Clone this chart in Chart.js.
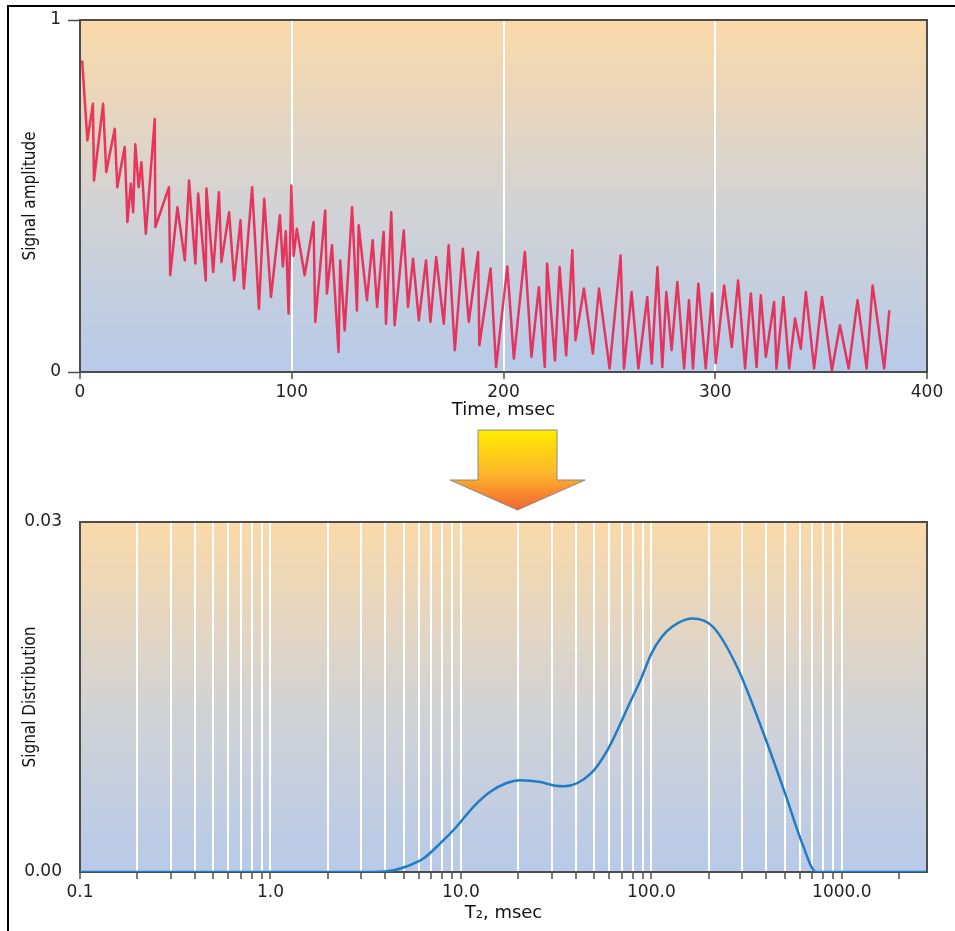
<!DOCTYPE html>
<html>
<head>
<meta charset="utf-8">
<script src="https://cdn.jsdelivr.net/npm/chart.js@4.4.1/dist/chart.umd.min.js"></script>
<style>
  body { margin: 0; background: #fff; width: 955px; height: 931px; overflow: hidden; position: relative; }
  #frame { position: absolute; left: 7px; top: 5px; width: 960px; height: 940px;
           border-top: 2px solid #000; border-left: 2px solid #000; }
  #decay { position: absolute; left: 0; top: 0; }
  #dist { position: absolute; left: 0; top: 480px; }
  #arrow { position: absolute; left: 0; top: 0; }
</style>
</head>
<body>
<div id="frame"></div>
<canvas id="decay" width="955" height="425"></canvas>
<svg id="arrow" width="955" height="520">
  <defs>
    <linearGradient id="ag" x1="0" y1="0" x2="0" y2="1">
      <stop offset="0" stop-color="#ffec00"/>
      <stop offset="0.55" stop-color="#fdb52a"/>
      <stop offset="1" stop-color="#f06432"/>
    </linearGradient>
  </defs>
  <polygon points="478,430 557,430 557,480 585,480 517.5,510 450,480 478,480"
           fill="url(#ag)" stroke="#8a8a8a" stroke-width="1"/>
</svg>
<canvas id="dist" width="955" height="451"></canvas>
<script>
// echo decay (top panel)
const decayTime = [1.0, 3.5, 6.1, 6.6, 10.9, 12.4, 16.4, 17.6, 21.1, 22.4, 24.0, 25.1, 26.1, 27.7, 29.0, 31.1,
  35.3, 35.6, 42.0, 42.6, 46.0, 49.5, 51.5, 54.5, 55.8, 59.4, 59.7, 62.9, 65.6, 66.8, 70.4, 72.8, 75.8, 77.4,
  81.3, 84.5, 87.0, 90.2, 94.4, 95.8, 97.2, 98.5, 99.8, 100.9, 102.4, 106.1, 110.3, 111.1, 115.8, 116.6, 119.0,
  122.1, 122.9, 125.0, 128.5, 130.8, 131.6, 135.5, 138.2, 140.3, 143.4, 144.5, 147.0, 148.6, 152.9, 154.9,
  157.3, 160.0, 163.4, 165.5, 168.2, 171.8, 174.1, 177.0, 180.8, 183.6, 188.0, 188.6, 193.9, 196.5, 201.8,
  204.9, 210.1, 213.2, 216.7, 219.5, 220.6, 224.3, 226.5, 229.6, 232.5, 234.0, 238.0, 242.2, 245.1, 250.1,
  255.3, 256.9, 260.5, 263.7, 267.9, 270.0, 272.7, 275.0, 276.9, 279.4, 282.1, 285.3, 287.6, 289.5, 292.0,
  295.5, 298.5, 300.2, 304.2, 307.8, 310.8, 314.1, 316.8, 319.5, 321.5, 323.9, 327.8, 328.9, 332.2, 334.9,
  337.7, 340.4, 342.8, 346.7, 350.4, 355.1, 358.9, 363.0, 367.2, 371.5, 374.3, 379.8, 382.2];
const decayAmp = [0.885, 0.658, 0.762, 0.544, 0.762, 0.568, 0.691, 0.525, 0.639, 0.426, 0.535, 0.454, 0.647, 0.525,
  0.596, 0.393, 0.719, 0.412, 0.525, 0.275, 0.468, 0.317, 0.544, 0.308, 0.507, 0.260, 0.521, 0.284, 0.511, 0.312,
  0.454, 0.260, 0.431, 0.237, 0.525, 0.180, 0.492, 0.213, 0.445, 0.300, 0.400, 0.166, 0.530, 0.330, 0.407, 0.275,
  0.426, 0.142, 0.459, 0.223, 0.360, 0.057, 0.317, 0.118, 0.468, 0.175, 0.417, 0.204, 0.374, 0.185, 0.398, 0.137,
  0.454, 0.133, 0.402, 0.185, 0.322, 0.147, 0.317, 0.142, 0.327, 0.137, 0.360, 0.062, 0.350, 0.142, 0.341, 0.076,
  0.294, 0.014, 0.300, 0.038, 0.341, 0.043, 0.241, 0.014, 0.308, 0.033, 0.298, 0.047, 0.346, 0.090, 0.237, 0.052,
  0.237, 0.010, 0.331, 0.010, 0.227, 0.010, 0.213, 0.024, 0.298, 0.014, 0.227, 0.062, 0.256, 0.010, 0.204, 0.010,
  0.251, 0.010, 0.223, 0.025, 0.246, 0.071, 0.260, 0.010, 0.223, 0.014, 0.218, 0.043, 0.199, 0.010, 0.213, 0.010,
  0.152, 0.066, 0.227, 0.010, 0.213, 0.005, 0.133, 0.010, 0.204, 0.010, 0.246, 0.010, 0.175];
const timeTicks = [0, 100, 200, 300, 400];
const ampTicks = [0, 1];

// T2 distribution (bottom panel)
const t2Values = [0.1, 1, 3.5, 4.44, 5.21, 6.35, 7.76, 9.46, 11.6, 14.2, 17.4, 20.4, 26.1, 30.7, 35, 48, 58.7,
  78.2, 88.2, 100, 112.8, 128, 164, 211, 282, 377, 504, 620, 733, 1000, 2800];
const distValues = [0, 0, 0, 0.00015, 0.00049, 0.00115, 0.00243, 0.00386, 0.00557, 0.00686, 0.00763, 0.00786,
  0.00771, 0.00742, 0.00735, 0.00843, 0.01043, 0.01472, 0.01655, 0.01872, 0.0201, 0.0210, 0.02172, 0.0210,
  0.01757, 0.01243, 0.00672, 0.00243, 0, 0, 0];
const t2Ticks = [0.1, 0.2, 0.3, 0.4, 0.5, 0.6, 0.7, 0.8, 0.9, 1, 2, 3, 4, 5, 6, 7, 8, 9, 10, 20, 30, 40, 50, 60,
  70, 80, 90, 100, 200, 300, 400, 500, 600, 700, 800, 900, 1000, 2000];
const t2LabelValues = [0.1, 1, 10, 100, 1000];
const t2LabelText = ['0.1', '1.0', '10.0', '100.0', '1000.0'];
const distTicks = [0, 0.03];

const tickFont = { family: 'DejaVu Sans', size: 17 };
const titleFont = { family: 'DejaVu Sans', size: 18 };
const sideFont = { family: "'Liberation Sans Narrow', 'DejaVu Sans Condensed', sans-serif", size: 17 };
const axisDark = '#4d4d4d';

// peach-to-blue backdrop plus the top/right edges of the plot box
const panel = {
  id: 'panel',
  beforeDraw(chart) {
    const { ctx, chartArea: a } = chart;
    const g = ctx.createLinearGradient(0, a.top, 0, a.bottom);
    g.addColorStop(0, '#fad9a9');
    g.addColorStop(0.5, '#d4d3d3');
    g.addColorStop(1, '#b7cae9');
    ctx.save();
    ctx.fillStyle = g;
    ctx.fillRect(a.left, a.top, a.right - a.left, a.bottom - a.top);
    ctx.restore();
  },
  afterDraw(chart) {
    const { ctx, chartArea: a } = chart;
    ctx.save();
    ctx.strokeStyle = axisDark;
    ctx.lineWidth = 2;
    ctx.beginPath();
    ctx.moveTo(a.left, a.top);
    ctx.lineTo(a.right, a.top);
    ctx.lineTo(a.right, a.bottom);
    ctx.stroke();
    ctx.restore();
  }
};

new Chart(document.getElementById('decay'), {
  type: 'line',
  data: {
    datasets: [{
      data: decayTime.map((t, i) => ({ x: t, y: decayAmp[i] })),
      borderColor: 'rgba(234, 26, 70, 0.85)',
      borderWidth: 2.5,
      borderJoinStyle: 'round',
      pointRadius: 0,
      tension: 0
    }]
  },
  options: {
    responsive: false,
    animation: false,
    layout: { padding: { top: 20, right: 28, left: 0, bottom: 0 } },
    plugins: { legend: { display: false }, tooltip: { enabled: false } },
    scales: {
      x: {
        type: 'linear', min: 0, max: 400,
        afterFit: s => { s.height = 53; },
        afterBuildTicks: s => { s.ticks = timeTicks.map(v => ({ value: v })); },
        border: { color: axisDark, width: 2 },
        grid: {
          color: c => (c.tick && c.tick.value > 0 && c.tick.value < 400) ? '#ffffff' : 'rgba(0,0,0,0)',
          lineWidth: 2, tickColor: axisDark, tickWidth: 1.5, tickLength: 7
        },
        ticks: { font: tickFont, color: '#222', padding: 3, maxRotation: 0, autoSkip: false },
        title: { display: true, text: 'Time, msec', font: titleFont, color: '#111', padding: { top: 0, bottom: 4 } }
      },
      y: {
        min: 0, max: 1,
        afterFit: s => { s.width = 80; },
        afterBuildTicks: s => { s.ticks = ampTicks.map(v => ({ value: v })); },
        border: { color: axisDark, width: 2 },
        grid: { drawOnChartArea: false, tickColor: axisDark, tickWidth: 1.5, tickLength: 12 },
        ticks: { font: tickFont, color: '#222', padding: 7, callback: v => String(v) },
        title: { display: true, text: 'Signal amplitude', font: sideFont, color: '#111', padding: { top: 20, bottom: 0 } }
      }
    }
  },
  plugins: [panel]
});

new Chart(document.getElementById('dist'), {
  type: 'line',
  data: {
    datasets: [{
      data: t2Values.map((t, i) => ({ x: t, y: distValues[i] })),
      borderColor: '#1f7cc6',
      borderWidth: 2.5,
      pointRadius: 0,
      cubicInterpolationMode: 'monotone'
    }]
  },
  options: {
    responsive: false,
    animation: false,
    layout: { padding: { top: 42, right: 28, left: 0, bottom: 0 } },
    plugins: { legend: { display: false }, tooltip: { enabled: false } },
    scales: {
      x: {
        type: 'logarithmic', min: 0.1, max: 2800,
        afterFit: s => { s.height = 59; },
        afterBuildTicks: s => { s.ticks = t2Ticks.map(v => ({ value: v })); },
        border: { color: axisDark, width: 2 },
        grid: {
          color: c => (c.tick && c.tick.value > 0.1 && c.tick.value <= 1000) ? '#ffffff' : 'rgba(0,0,0,0)',
          lineWidth: 2, tickColor: axisDark, tickWidth: 1.5, tickLength: 7
        },
        ticks: {
          font: tickFont, color: '#222', padding: 3, maxRotation: 0, autoSkip: false,
          callback: v => {
            const k = t2LabelValues.indexOf(v);
            return k >= 0 ? t2LabelText[k] : '';
          }
        },
        title: { display: true, text: 'T₂, msec', font: titleFont, color: '#111', padding: { top: 0, bottom: 7 } }
      },
      y: {
        min: 0, max: 0.03,
        afterFit: s => { s.width = 80; },
        afterBuildTicks: s => { s.ticks = distTicks.map(v => ({ value: v })); },
        border: { color: axisDark, width: 2 },
        grid: { drawOnChartArea: false, tickColor: 'rgba(0,0,0,0)', tickLength: 12 },
        ticks: { font: tickFont, color: '#222', padding: 6, callback: v => v.toFixed(2) },
        title: { display: true, text: 'Signal Distribution', font: sideFont, color: '#111', padding: { top: 20, bottom: 0 } }
      }
    }
  },
  plugins: [panel]
});
</script>
</body>
</html>
